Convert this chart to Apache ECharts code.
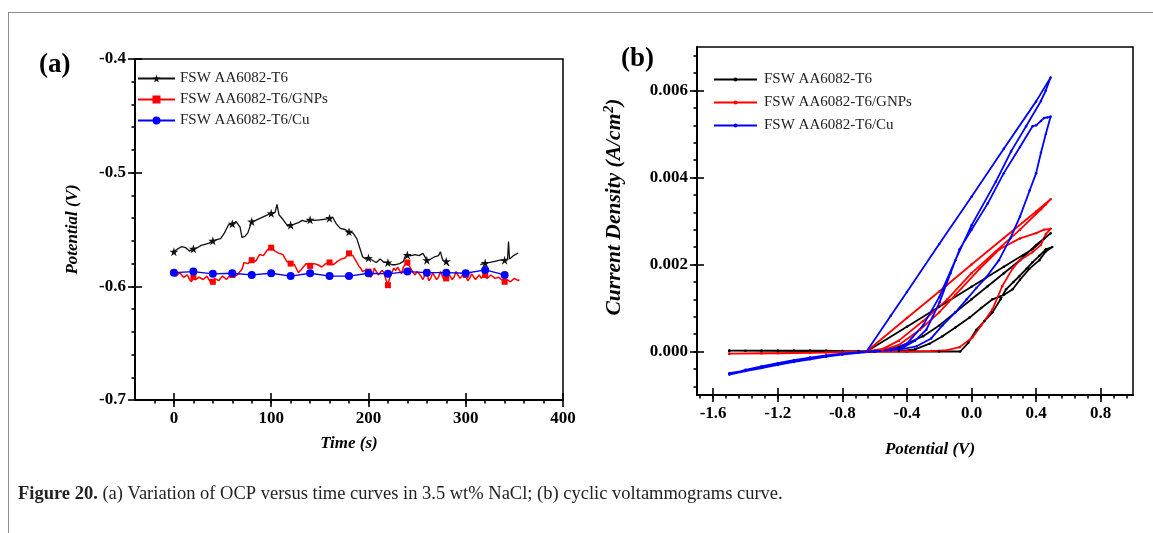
<!DOCTYPE html>
<html><head><meta charset="utf-8">
<script src="https://cdn.jsdelivr.net/npm/echarts@6/dist/echarts.min.js"></script>
<style>
html,body{margin:0;padding:0;background:#fff;overflow:hidden;}
#chart{position:absolute;left:0;top:0;width:1153px;height:533px;}
#frame{position:absolute;left:8px;top:12px;right:0;bottom:0;border-left:1px solid #8c8c8c;border-top:1px solid #8c8c8c;pointer-events:none;}
</style></head><body>
<div id="chart"></div><div id="frame"></div>
<script>
// ---------- DATA ----------
const seriesNames = ['FSW AA6082-T6', 'FSW AA6082-T6/GNPs', 'FSW AA6082-T6/Cu'];

// (a) OCP vs time : [time (s), potential (V)]
const ocpBase = [[0,-0.5695],[4,-0.567],[8,-0.565],[12,-0.566],[16,-0.569],[20,-0.567],[24,-0.566],[28,-0.564],[32,-0.563],[36,-0.562],[40,-0.560],[44,-0.559],[48,-0.558],[52,-0.553],[56,-0.546],[60,-0.545],[64,-0.543],[68,-0.548],[70,-0.557],[73,-0.556],[76,-0.553],[80,-0.543],[84,-0.542],[89,-0.540],[94,-0.538],[100,-0.5357],[104,-0.535],[106,-0.528],[108,-0.537],[112,-0.541],[117,-0.547],[120,-0.546],[123,-0.5455],[128,-0.544],[132,-0.542],[136,-0.543],[140,-0.5415],[145,-0.542],[150,-0.5415],[155,-0.541],[160,-0.540],[163,-0.539],[167,-0.545],[171,-0.549],[176,-0.550],[180,-0.552],[184,-0.553],[188,-0.558],[191,-0.566],[194,-0.574],[197,-0.576],[200,-0.575],[204,-0.577],[208,-0.579],[212,-0.576],[216,-0.579],[220,-0.579],[224,-0.581],[228,-0.581],[232,-0.580],[236,-0.578],[238,-0.573],[240,-0.5725],[244,-0.573],[248,-0.572],[252,-0.573],[256,-0.571],[258,-0.572],[260,-0.577],[264,-0.576],[268,-0.574],[272,-0.573],[274,-0.5695],[276,-0.576],[278,-0.578],[280,-0.578],[283,-0.582],[290,null],[315,-0.581],[320,-0.5795],[325,-0.579],[330,-0.578],[335,-0.577],[340,-0.577],[343,-0.576],[344,-0.5606],[345,-0.576],[349,-0.573],[354,-0.5707]];
const ocpGnp = [[0,-0.588],[2,-0.591],[4,-0.590],[6,-0.588],[8,-0.589],[10,-0.592],[12,-0.593],[14,-0.590],[16,-0.594],[18,-0.596],[20,-0.592],[22,-0.594],[24,-0.595],[26,-0.592],[28,-0.591],[30,-0.594],[32,-0.593],[34,-0.591],[36,-0.594],[38,-0.597],[40,-0.596],[42,-0.593],[44,-0.592],[46,-0.595],[48,-0.594],[50,-0.591],[52,-0.591],[54,-0.594],[56,-0.592],[58,-0.590],[60,-0.590],[62,-0.592],[64,-0.591],[66,-0.589],[68,-0.588],[70,-0.585],[72,-0.579],[76,-0.580],[80,-0.577],[84,-0.578],[88,-0.572],[92,-0.573],[96,-0.568],[100,-0.566],[104,-0.569],[108,-0.571],[112,-0.572],[116,-0.578],[120,-0.580],[124,-0.581],[128,-0.588],[132,-0.584],[136,-0.580],[140,-0.582],[144,-0.580],[148,-0.581],[152,-0.583],[156,-0.580],[160,-0.579],[164,-0.581],[168,-0.578],[172,-0.576],[176,-0.575],[180,-0.571],[184,-0.573],[188,-0.579],[190,-0.582],[192,-0.584],[194,-0.587],[196,-0.588],[198,-0.585],[200,-0.587],[202,-0.592],[204,-0.590],[206,-0.584],[208,-0.585],[210,-0.590],[212,-0.591],[214,-0.586],[216,-0.588],[218,-0.594],[220,-0.599],[222,-0.592],[224,-0.588],[226,-0.584],[228,-0.586],[230,-0.583],[232,-0.584],[234,-0.589],[236,-0.583],[238,-0.580],[240,-0.579],[242,-0.582],[244,-0.585],[246,-0.588],[248,-0.590],[250,-0.587],[252,-0.586],[254,-0.591],[256,-0.594],[258,-0.590],[260,-0.588],[262,-0.595],[264,-0.593],[266,-0.588],[268,-0.589],[270,-0.594],[272,-0.592],[274,-0.587],[276,-0.587],[278,-0.595],[280,-0.593],[282,-0.588],[284,-0.589],[286,-0.594],[288,-0.592],[290,-0.587],[292,-0.588],[294,-0.593],[296,-0.591],[298,-0.588],[300,-0.590],[302,-0.595],[304,-0.593],[306,-0.589],[308,-0.589],[310,-0.594],[312,-0.592],[314,-0.590],[316,-0.593],[318,-0.591],[320,-0.590],[322,-0.593],[324,-0.592],[326,-0.590],[328,-0.591],[330,-0.593],[332,-0.594],[334,-0.592],[336,-0.593],[338,-0.595],[340,-0.596],[342,-0.594],[344,-0.593],[346,-0.596],[348,-0.595],[350,-0.593],[352,-0.594],[354,-0.595],[355,-0.594]];
const ocpCu = [[0,-0.588],[20,-0.587],[40,-0.589],[60,-0.5885],[80,-0.590],[100,-0.5885],[120,-0.591],[140,-0.5885],[160,-0.591],[180,-0.591],[200,-0.5885],[220,-0.589],[240,-0.587],[260,-0.588],[280,-0.588],[300,-0.5885],[320,-0.5856],[340,-0.590]];

// (b) cyclic voltammograms : [potential (V), current density (A/cm2)]
const cvBase = [[-1.5,0.00002],[-1.4,0.00002],[-1.3,0.00002],[-1.2,0.00002],[-1.1,0.00002],[-1.0,0.00002],[-0.9,0.00002],[-0.8,0.00001],[-0.7,0.00001],[-0.6,0.0],[-0.4,0.0],[-0.2,0.0],[-0.07,0.0],[-0.02,0.0002],[0.03,0.0005],[0.08,0.0007],[0.13,0.0009],[0.18,0.0012],[0.214,0.00143],[0.26,0.0016],[0.296,0.00173],[0.34,0.0019],[0.377,0.00205],[0.42,0.0022],[0.46,0.00235],[0.5,0.0024],
  [0.46,0.0023],[0.42,0.0021],[0.358,0.0019],[0.3,0.00165],[0.255,0.00143],[0.2,0.0013],[0.13,0.0012],[0.06,0.001],[-0.012,0.00078],[-0.1,0.00055],[-0.18,0.00035],[-0.26,0.00018],[-0.35,0.00005],[-0.45,0.00001],[-0.6,0.0],[-0.8,0.00001],[-1.0,0.00002],[-1.2,0.00002],[-1.5,0.00002],
  [-1.3,0.00002],[-1.1,0.00002],[-0.9,0.00001],[-0.65,0.0],[-0.4,0.00057],[-0.2,0.00103],[0.0,0.00149],[0.2,0.00195],[0.377,0.00235],[0.49,0.00272],
  [0.45,0.0026],[0.4,0.00245],[0.3,0.0021],[0.2,0.0018],[0.1,0.0015],[0.0,0.0012],[-0.1,0.0009],[-0.2,0.0006],[-0.3,0.00035],[-0.45,0.0001],[-0.6,0.0],[-1.0,0.00001],[-1.5,0.00002]];
const cvGnp = [[-1.5,-0.00005],[-1.3,-0.00004],[-1.1,-0.00003],[-0.9,-0.00002],[-0.7,-0.00001],[-0.6,0.0],[-0.4,0.0],[-0.25,0.00001],[-0.15,0.00003],[-0.074,0.0001],[0.006,0.00032],[0.06,0.0006],[0.13,0.00097],[0.19,0.0015],[0.253,0.0019],[0.3,0.0021],[0.377,0.00228],[0.43,0.00245],[0.46,0.0027],[0.49,0.00282],
  [0.45,0.0028],[0.4,0.00272],[0.3,0.0026],[0.173,0.00235],[0.05,0.0019],[-0.1,0.0013],[-0.2,0.0009],[-0.32,0.0005],[-0.45,0.00015],[-0.55,0.00003],[-0.65,0.0],[-0.8,-0.00002],[-1.0,-0.00003],[-1.2,-0.00004],[-1.5,-0.00005],
  [-1.3,-0.00004],[-1.1,-0.00003],[-0.9,-0.00002],[-0.65,0.0],[-0.4,0.00077],[-0.2,0.00138],[0.0,0.002],[0.2,0.00261],[0.4,0.00322],[0.49,0.0035],
  [0.46,0.00338],[0.43,0.00327],[0.3,0.0028],[0.15,0.0023],[0.0,0.0018],[-0.15,0.0012],[-0.3,0.0007],[-0.45,0.00025],[-0.55,0.00006],[-0.65,0.0],[-1.0,-0.00003],[-1.5,-0.00005]];
const cvCu = [[-1.5,-0.00052],[-1.4,-0.00044],[-1.3,-0.00036],[-1.2,-0.00029],[-1.1,-0.00022],[-1.0,-0.00016],[-0.9,-0.0001],[-0.8,-0.00006],[-0.7,-0.00002],[-0.6,0.00001],[-0.5,0.00003],[-0.44,0.00005],[-0.34,0.00012],[-0.25,0.0003],[-0.18,0.0006],[-0.1,0.0009],[-0.03,0.0012],[0.03,0.00146],[0.09,0.0017],[0.17,0.0021],[0.24,0.0026],[0.3,0.0031],[0.36,0.0037],[0.4,0.0041],[0.43,0.00457],[0.46,0.005],[0.49,0.0054],
  [0.47,0.00538],[0.45,0.00537],[0.43,0.0053],[0.4,0.0052],[0.378,0.00518],[0.3,0.0047],[0.2,0.0041],[0.1,0.0034],[0.0,0.0028],[-0.074,0.00235],[-0.13,0.0018],[-0.198,0.00113],[-0.24,0.0008],[-0.28,0.0005],[-0.35,0.00025],[-0.42,0.0001],[-0.5,0.00003],[-0.6,0.0],[-0.7,-0.00003],[-0.8,-0.00007],[-0.9,-0.00012],[-1.0,-0.00018],[-1.1,-0.00024],[-1.2,-0.00031],[-1.3,-0.00038],[-1.4,-0.00045],[-1.5,-0.00053],
  [-1.4,-0.00042],[-1.3,-0.00034],[-1.2,-0.00027],[-1.1,-0.0002],[-1.0,-0.00014],[-0.9,-0.00009],[-0.8,-0.00005],[-0.7,-0.00002],[-0.65,0.0],[-0.5,0.00082],[-0.4,0.00137],[-0.2,0.00247],[0.0,0.00356],[0.2,0.00466],[0.4,0.00575],[0.49,0.0063],
  [0.46,0.006],[0.43,0.00576],[0.338,0.00518],[0.245,0.0046],[0.15,0.0039],[0.0,0.0029],[-0.1,0.0021],[-0.2,0.00125],[-0.3,0.0006],[-0.4,0.00018],[-0.5,0.00004],[-0.6,0.0],[-0.8,-0.00006],[-1.0,-0.00016],[-1.2,-0.0003],[-1.4,-0.00044],[-1.5,-0.0005]];

// tick labels
const ocpXTicks = [0, 100, 200, 300, 400];
const ocpYTicks = [-0.7, -0.6, -0.5, -0.4];
const cvXTicks = [-1.6, -1.2, -0.8, -0.4, 0.0, 0.4, 0.8];
const cvYTicks = [0.000, 0.002, 0.004, 0.006];
const caption = '(a) Variation of OCP versus time curves in 3.5 wt% NaCl; (b) cyclic voltammograms curve.';

// ---------- CHART ----------
const FONT = 'Liberation Serif';
function steps(a, b, s) { const r = []; for (let i = 0; a + i * s <= b + 1e-9; i++) r.push(+(a + i * s).toFixed(6)); return r; }
const ocpXMinor = steps(-20, 380, 20);
const ocpYMinor = steps(-0.68, -0.42, 0.02);
const cvXMinor = steps(-1.68, 0.96, 0.08);
const cvYMinor = steps(-0.0008, 0.0068, 0.0004);
const STAR = 'path://M50,0 L61,35 L98,35 L68,57 L79,91 L50,70 L21,91 L32,57 L2,35 L39,35 Z';
const lblStyle = { fontFamily: FONT, fontWeight: 'bold', fontSize: 17, color: '#000' };
const nameStyle = { fontFamily: FONT, fontWeight: 'bold', fontStyle: 'italic', fontSize: 17, color: '#000' };
const axLine = { show: true, onZero: false, lineStyle: { color: '#000', width: 2 } };
const noLine = { show: false, onZero: false };
const tickLine = { color: '#000', width: 1.6 };
const MAJ = 7;   // half length of crossing major ticks
function markerEvery20(size) { return function (v) { return (v && v[0] % 20 === 0) ? size : 0; }; }
function tickAxis(kind, grid, min, max, values, len, offset, pos) {
  return { gridIndex: grid, position: pos, offset: offset, type: 'value', min: min, max: max,
    axisLine: noLine, axisTick: { customValues: values, length: len, lineStyle: tickLine },
    axisLabel: { show: false }, splitLine: { show: false } };
}

const chart = echarts.init(document.getElementById('chart'), null, { renderer: 'canvas' });
const cvLegendNames = ['cv0', 'cv1', 'cv2'];

const option = {
  backgroundColor: '#fff',
  animation: false,
  title: [
    { text: '(a)', left: 34, top: 47, textStyle: { fontFamily: FONT, fontWeight: 'bold', fontSize: 27, color: '#000' } },
    { text: '(b)', left: 616, top: 41, textStyle: { fontFamily: FONT, fontWeight: 'bold', fontSize: 27, color: '#000' } },
    { text: '{b|Figure 20.} ' + caption, left: 13, top: 480,
      textStyle: { fontFamily: FONT, fontWeight: 'normal', fontSize: 18.5, color: '#222',
        rich: { b: { fontFamily: FONT, fontWeight: 'bold', fontSize: 18.5, color: '#222' } } } }
  ],
  legend: [
    { orient: 'vertical', left: 132, top: 66, itemWidth: 37, itemHeight: 10, itemGap: 6,
      data: seriesNames, textStyle: { fontFamily: FONT, fontSize: 15, color: '#222' }, selectedMode: false },
    { orient: 'vertical', left: 708, top: 67, itemWidth: 43, itemHeight: 5, itemGap: 8,
      data: cvLegendNames, formatter: function (n) { return seriesNames[cvLegendNames.indexOf(n)]; },
      textStyle: { fontFamily: FONT, fontSize: 15, color: '#222', padding: [0, 0, 0, 2] }, selectedMode: false }
  ],
  grid: [
    { left: 135, top: 59, width: 428, height: 341, show: true, borderColor: '#000', borderWidth: 1.5, backgroundColor: 'transparent' },
    { left: 697, top: 47, width: 436, height: 348, show: true, borderColor: '#000', borderWidth: 1.5, backgroundColor: 'transparent' }
  ],
  xAxis: [
    { gridIndex: 0, position: 'bottom', type: 'value', min: -40, max: 400, interval: 20, axisLine: axLine,
      axisTick: { show: false },
      axisLabel: { customValues: ocpXTicks, margin: 10, ...lblStyle }, splitLine: { show: false },
      name: 'Time (s)', nameLocation: 'middle', nameGap: 35, nameTextStyle: nameStyle },
    tickAxis('x', 0, -40, 400, ocpXTicks, 2 * MAJ, -MAJ, 'bottom'),
    tickAxis('x', 0, -40, 400, ocpXMinor, 3.5, 0, 'bottom'),
    { gridIndex: 1, position: 'bottom', type: 'value', min: -1.7, max: 1.0, axisLine: axLine,
      axisTick: { show: false },
      axisLabel: { customValues: cvXTicks, margin: 10, formatter: function (v) { return v.toFixed(1); }, ...lblStyle },
      splitLine: { show: false },
      name: 'Potential (V)', nameLocation: 'middle', nameGap: 46, nameTextStyle: { ...nameStyle, padding: [0, 0, 0, 30] } },
    tickAxis('x', 1, -1.7, 1.0, cvXTicks, 2 * MAJ, -MAJ, 'bottom'),
    tickAxis('x', 1, -1.7, 1.0, cvXMinor, 3.5, 0, 'bottom')
  ],
  yAxis: [
    { gridIndex: 0, position: 'left', type: 'value', min: -0.7, max: -0.4, interval: 0.1, axisLine: axLine,
      axisTick: { show: false },
      axisLabel: { margin: 9, formatter: function (v) { return v.toFixed(1); }, ...lblStyle }, splitLine: { show: false },
      name: 'Potential (V)', nameLocation: 'middle', nameGap: 54, nameTextStyle: nameStyle },
    tickAxis('y', 0, -0.7, -0.4, ocpYTicks, 2 * MAJ, -MAJ, 'left'),
    tickAxis('y', 0, -0.7, -0.4, ocpYMinor, 3.5, 0, 'left'),
    { gridIndex: 1, position: 'left', type: 'value', min: -0.001, max: 0.007, axisLine: axLine,
      axisTick: { show: false },
      axisLabel: { customValues: cvYTicks, margin: 9, formatter: function (v) { return v.toFixed(3); }, ...lblStyle },
      splitLine: { show: false },
      name: 'Current Density (A/cm{sup|2})', nameLocation: 'middle', nameGap: 70,
      nameTextStyle: { ...nameStyle, fontSize: 21.5, padding: [0, 0, 0, 28], rich: { sup: { fontFamily: FONT, fontWeight: 'bold', fontStyle: 'italic', fontSize: 14, color: '#000', verticalAlign: 'top', padding: [0, 0, 11, 1] } } } },
    tickAxis('y', 1, -0.001, 0.007, cvYTicks, 2 * MAJ, -MAJ, 'left'),
    tickAxis('y', 1, -0.001, 0.007, cvYMinor, 3.5, 0, 'left')
  ],
  series: [
    { name: seriesNames[0], type: 'line', xAxisIndex: 0, yAxisIndex: 0, data: ocpBase, connectNulls: false,
      symbol: STAR, symbolSize: markerEvery20(9), lineStyle: { color: '#111', width: 1.3 }, itemStyle: { color: '#111' } },
    { name: seriesNames[1], type: 'line', xAxisIndex: 0, yAxisIndex: 0, data: ocpGnp,
      symbol: 'rect', symbolSize: markerEvery20(6), lineStyle: { color: '#ff0000', width: 1.5 }, itemStyle: { color: '#ff0000' } },
    { name: seriesNames[2], type: 'line', xAxisIndex: 0, yAxisIndex: 0, data: ocpCu,
      symbol: 'circle', symbolSize: 8, lineStyle: { color: '#0000ff', width: 1.3 }, itemStyle: { color: '#0000ff' } },
    { name: 'cv0', type: 'line', xAxisIndex: 3, yAxisIndex: 3, data: cvBase,
      symbol: 'circle', symbolSize: 2.5, lineStyle: { color: '#000', width: 1.8 }, itemStyle: { color: '#000' } },
    { name: 'cv1', type: 'line', xAxisIndex: 3, yAxisIndex: 3, data: cvGnp,
      symbol: 'circle', symbolSize: 2.5, lineStyle: { color: '#ff0000', width: 1.8 }, itemStyle: { color: '#ff0000' } },
    { name: 'cv2', type: 'line', xAxisIndex: 3, yAxisIndex: 3, data: cvCu,
      symbol: 'circle', symbolSize: 2.5, lineStyle: { color: '#0000ff', width: 1.8 }, itemStyle: { color: '#0000ff' } }
  ]
};
chart.setOption(option);
</script>
</body></html>
